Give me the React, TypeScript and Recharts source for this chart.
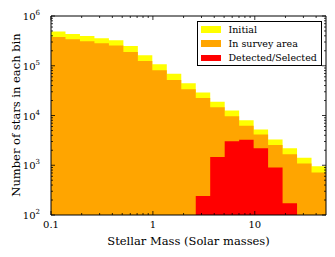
import React from 'react';
import { ComposedChart, Area, XAxis, YAxis, Legend } from 'recharts';

// bin edges (log spaced, solar masses)
const binEdges = [
  0.1, 0.1387, 0.1924, 0.2668, 0.3701, 0.5133, 0.7118, 0.9871, 1.369, 1.899,
  2.634, 3.652, 5.066, 7.026, 9.743, 13.51, 18.74, 25.99, 36.05, 50,
];

// counts per bin (19 bins)
const initialCounts = [
  486000, 435000, 396000, 357000, 325000, 250000, 163000, 107000, 69000, 44600,
  29000, 18800, 12600, 8050, 5240, 3300, 2200, 1410, 950,
];
const surveyCounts = [
  378000, 340000, 310000, 283000, 255000, 189000, 125000, 81000, 52000, 33700,
  22500, 14700, 9700, 6200, 4150, 2540, 1670, 1090, 716,
];
const detectedCounts: (number | null)[] = [
  null, null, null, null, null, null, null, null, null, null,
  240, 1460, 3050, 3240, 2200, 903, 173, null, null,
];

const xMajor = [0.1, 1, 10];
const xMajorLabels = ['0.1', '1', '10'];
const xMinor = [0.2, 0.3, 0.4, 0.5, 0.6, 0.7, 0.8, 0.9, 2, 3, 4, 5, 6, 7, 8, 9, 20, 30, 40];
const yMajor = [100, 1000, 10000, 100000, 1000000];
const yMajorExp = ['2', '3', '4', '5', '6'];
const yMinor = [
  200, 300, 400, 500, 600, 700, 800, 900,
  2000, 3000, 4000, 5000, 6000, 7000, 8000, 9000,
  20000, 30000, 40000, 50000, 60000, 70000, 80000, 90000,
  200000, 300000, 400000, 500000, 600000, 700000, 800000, 900000,
];

const legendItems = [
  { name: 'Initial', color: '#FFFF00' },
  { name: 'In survey area', color: '#FFA500' },
  { name: 'Detected/Selected', color: '#FF0000' },
];

// step value at edge i = bin i, last edge repeats the previous bin
const stepValue = (arr: (number | null)[], i: number) => {
  const v = i < arr.length ? arr[i] : null;
  if (v != null) return v;
  return i > 0 ? arr[i - 1] ?? null : null;
};

const data = binEdges.map((edge, i) => ({
  edge,
  initial: stepValue(initialCounts, i),
  survey: stepValue(surveyCounts, i),
  detected: stepValue(detectedCounts, i),
}));

const FONT = 'DejaVu Serif';
const xTicks = [...xMajor, ...xMinor];
const yTicks = [...yMajor, ...yMinor];

const BottomTick = (props: any) => {
  const { x, y, payload } = props;
  const idx = xMajor.indexOf(payload.value);
  const len = idx >= 0 ? 4 : 2;
  return (
    <g>
      <line x1={x} x2={x} y1={y} y2={y - len} stroke="#000" strokeWidth={0.8} />
      {idx >= 0 && (
        <text x={x} y={y + 13} textAnchor="middle" fontSize={10} fontFamily={FONT} fill="#000">
          {xMajorLabels[idx]}
        </text>
      )}
    </g>
  );
};

const TopTick = (props: any) => {
  const { x, y, payload } = props;
  const len = xMajor.includes(payload.value) ? 4 : 2;
  return <line x1={x} x2={x} y1={y} y2={y + len} stroke="#000" strokeWidth={0.8} />;
};

const LeftTick = (props: any) => {
  const { x, y, payload } = props;
  const idx = yMajor.indexOf(payload.value);
  const len = idx >= 0 ? 4 : 2;
  return (
    <g>
      <line x1={x} x2={x + len} y1={y} y2={y} stroke="#000" strokeWidth={0.8} />
      {idx >= 0 && (
        <text x={x - 11} y={y + 4} textAnchor="end" fontSize={10} fontFamily={FONT} fill="#000">
          10
          <tspan dy={-5} fontSize={7}>{yMajorExp[idx]}</tspan>
        </text>
      )}
    </g>
  );
};

const RightTick = (props: any) => {
  const { x, y, payload } = props;
  const len = yMajor.includes(payload.value) ? 4 : 2;
  return <line x1={x} x2={x - len} y1={y} y2={y} stroke="#000" strokeWidth={0.8} />;
};

const XTitle = () => (
  <text x={188.5} y={244.5} textAnchor="middle" fontSize={11.5} fontFamily={FONT} fill="#000">
    Stellar Mass (Solar masses)
  </text>
);

const YTitle = () => (
  <text
    x={19.5}
    y={115}
    transform="rotate(-90, 19.5, 115)"
    textAnchor="middle"
    fontSize={11.5}
    fontFamily={FONT}
    fill="#000"
  >
    Number of stars in each bin
  </text>
);

const LegendBox = () => (
  <div
    style={{
      position: 'relative',
      width: 123,
      height: 43,
      border: '1px solid #000',
      background: '#fff',
      fontFamily: FONT,
      fontSize: 9.5,
      color: '#000',
    }}
  >
    {legendItems.map((item, i) => (
      <div key={item.name} style={{ position: 'absolute', left: 3, top: 1 + i * 14.3, height: 14, display: 'flex', alignItems: 'center' }}>
        <span style={{ display: 'inline-block', width: 19.5, height: 6.7, background: item.color }} />
        <span style={{ marginLeft: 8, whiteSpace: 'nowrap', lineHeight: '14px' }}>{item.name}</span>
      </div>
    ))}
  </div>
);

export default function App() {
  return (
    <div style={{ position: 'fixed', left: 0, top: 0, width: 335, height: 257, background: '#fff' }}>
      <ComposedChart width={335} height={257} data={data} margin={{ top: 0, right: 0, bottom: 0, left: 0 }}>
        <XAxis
          dataKey="edge"
          type="number"
          scale="log"
          domain={[0.1, 50]}
          allowDataOverflow
          ticks={xTicks}
          interval={0}
          tick={<BottomTick />}
          tickLine={false}
          tickSize={0}
          tickMargin={0}
          height={42}
          axisLine={{ stroke: '#000' }}
          label={<XTitle />}
        />
        <XAxis
          xAxisId="top"
          orientation="top"
          dataKey="edge"
          type="number"
          scale="log"
          domain={[0.1, 50]}
          allowDataOverflow
          ticks={xTicks}
          interval={0}
          tick={<TopTick />}
          tickLine={false}
          tickSize={0}
          tickMargin={0}
          height={16}
          axisLine={{ stroke: '#000' }}
        />
        <YAxis
          type="number"
          scale="log"
          domain={[100, 1000000]}
          allowDataOverflow
          ticks={yTicks}
          interval={0}
          tick={<LeftTick />}
          tickLine={false}
          tickSize={0}
          tickMargin={0}
          width={51}
          axisLine={{ stroke: '#000' }}
          label={<YTitle />}
        />
        <YAxis
          yAxisId="right"
          orientation="right"
          type="number"
          scale="log"
          domain={[100, 1000000]}
          allowDataOverflow
          ticks={yTicks}
          interval={0}
          tick={<RightTick />}
          tickLine={false}
          tickSize={0}
          tickMargin={0}
          width={9}
          axisLine={{ stroke: '#000' }}
        />
        <Area
          type="stepAfter"
          dataKey="initial"
          name="Initial"
          fill="#FFFF00"
          fillOpacity={1}
          stroke="none"
          baseValue={100}
          dot={false}
          activeDot={false}
          isAnimationActive={false}
        />
        <Area
          type="stepAfter"
          dataKey="survey"
          name="In survey area"
          fill="#FFA500"
          fillOpacity={1}
          stroke="none"
          baseValue={100}
          dot={false}
          activeDot={false}
          isAnimationActive={false}
        />
        <Area
          type="stepAfter"
          dataKey="detected"
          name="Detected/Selected"
          fill="#FF0000"
          fillOpacity={1}
          stroke="none"
          baseValue={100}
          dot={false}
          activeDot={false}
          isAnimationActive={false}
        />
        <Legend
          layout="vertical"
          align="center"
          verticalAlign="middle"
          content={<LegendBox />}
          wrapperStyle={{ left: 197, top: 20.5, width: 125, height: 45 }}
        />
      </ComposedChart>
    </div>
  );
}
